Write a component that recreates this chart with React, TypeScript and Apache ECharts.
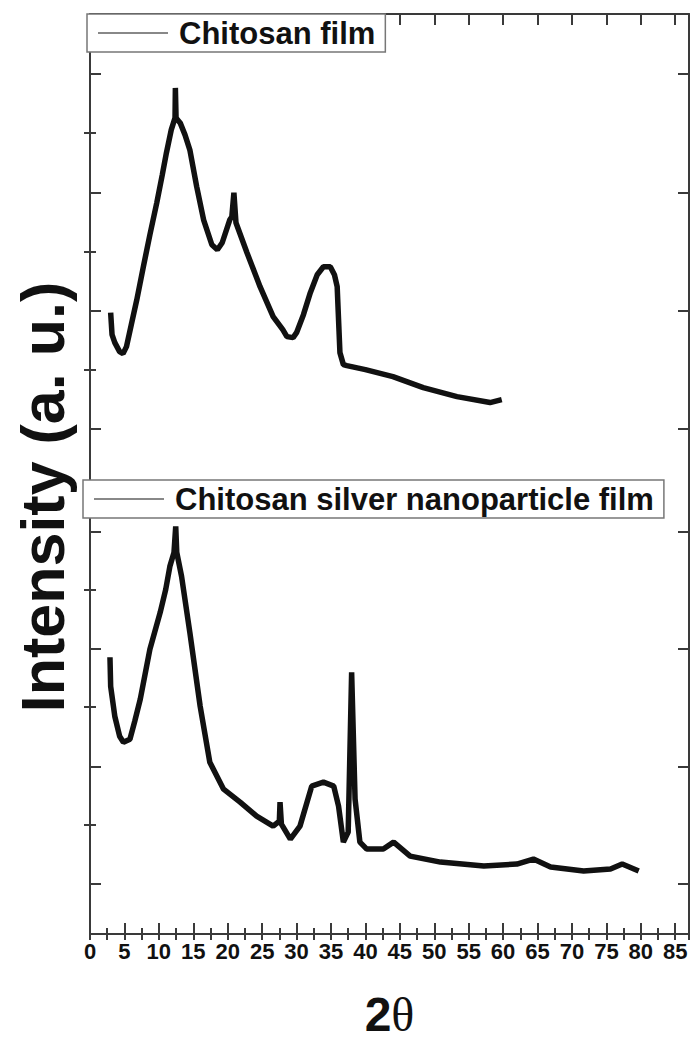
import React, { useEffect, useRef } from 'react';
import * as echarts from 'echarts';

// [2θ (deg), intensity (a.u.)]
const chitosanFilm: [number, number][] = [
  [3.0, 622], [3.2, 600], [3.6, 592], [4.3, 583], [4.8, 581], [5.3, 588], [6.0, 610],
  [6.8, 635], [7.75, 668], [8.7, 700], [9.7, 732], [10.5, 760], [11.1, 782], [11.8, 805],
  [12.35, 817], [12.4, 847], [12.5, 817], [13.1, 812], [13.8, 800], [14.5, 785], [15.5, 748],
  [16.5, 715], [17.7, 690], [18.5, 685], [19.2, 692], [20.3, 715], [20.6, 718], [20.9, 742],
  [21.2, 712], [22.8, 682], [24.7, 648], [26.6, 618], [28.0, 605], [28.6, 598], [29.5, 597],
  [30.0, 602], [31.0, 620], [32.0, 642], [33.0, 660], [33.9, 668], [34.9, 668], [35.5, 660],
  [35.9, 648], [36.3, 582], [36.8, 570], [37.3, 569], [40.0, 565], [44.0, 558], [48.4, 547],
  [53.3, 538], [58.1, 532], [59.8, 535],
];

const chitosanAgFilm: [number, number][] = [
  [2.9, 277], [3.0, 248], [3.6, 218], [4.3, 198], [4.85, 192], [5.8, 195], [6.5, 213],
  [7.3, 235], [8.7, 285], [10.2, 322], [11.0, 345], [11.6, 368], [12.2, 382], [12.45, 408],
  [12.6, 382], [13.3, 358], [14.5, 302], [16.0, 228], [17.4, 172], [19.4, 145], [21.8, 132],
  [24.2, 118], [26.6, 108], [27.5, 113], [27.6, 132], [27.8, 110], [29.1, 95], [30.5, 108],
  [32.2, 148], [33.9, 152], [35.4, 148], [36.1, 128], [36.8, 92], [37.5, 102], [38.0, 262],
  [38.5, 135], [39.2, 92], [40.2, 85], [42.6, 85], [44.1, 92], [46.5, 78], [50.9, 72],
  [57.2, 68], [62.0, 70], [64.4, 75], [66.9, 67], [71.7, 63], [75.6, 65], [77.3, 70],
  [79.7, 63],
];

const seriesNames = ['Chitosan film', 'Chitosan silver nanoparticle film'];
const yMajorTicks = [50, 167, 286, 403, 506, 624, 742, 861];
const yMinorTicks = [109, 227, 345, 565, 683, 802];
const yTitle = 'Intensity (a. u.)';

export default function App() {
  const ref = useRef<HTMLDivElement>(null);
  useEffect(() => {
    document.body.style.margin = '0';
    const chart = echarts.init(ref.current!, null, { renderer: 'svg' });
    const axisColor = '#3a3a3a';
    const font = "'Liberation Sans', Arial, sans-serif";
    const lineAxis = { show: true, onZero: false, lineStyle: { color: axisColor, width: 2 } };

    const xAxisBase = (position: string, interval: number, tickLen: number, withLabel: boolean, withLine: boolean) => ({
      type: 'value',
      min: 0,
      max: 87,
      interval,
      position,
      axisLine: withLine ? lineAxis : { show: false },
      axisTick: { show: true, inside: true, length: tickLen, lineStyle: { color: axisColor, width: 2 } },
      axisLabel: withLabel
        ? { show: true, showMaxLabel: false, margin: 6, fontSize: 22, fontWeight: 'bold', color: '#111', fontFamily: font }
        : { show: false },
      splitLine: { show: false },
    });

    const yAxisBase = (position: string, ticks: number[], tickLen: number, withLine: boolean) => ({
      type: 'value',
      min: 0,
      max: 921,
      position,
      axisLine: withLine ? lineAxis : { show: false },
      axisTick: { show: true, inside: true, length: tickLen, customValues: ticks, lineStyle: { color: axisColor, width: 2 } },
      axisLabel: { show: false },
      splitLine: { show: false },
    });

    const legendBase = (name: string, left: number, top: number) => ({
      data: [name],
      left,
      top,
      orient: 'horizontal',
      backgroundColor: '#fff',
      borderColor: '#777',
      borderWidth: 1.5,
      borderRadius: 0,
      padding: [2, 10, 2, 11],
      icon: 'rect',
      itemWidth: 70,
      itemHeight: 2,
      itemStyle: { color: '#888', borderWidth: 0 },
      textStyle: { fontSize: 31, fontWeight: 'bold', color: '#111', fontFamily: font, lineHeight: 34, padding: [0, 0, 0, 6] },
      selectedMode: false,
    });

    const x0 = xAxisBase('bottom', 5, 11, true, true) as any;
    x0.name = '{a|2}{b|θ}';
    x0.nameLocation = 'middle';
    x0.nameGap = 56;
    x0.nameTextStyle = {
      rich: {
        a: { fontSize: 48, fontWeight: 'bold', fontFamily: font, color: '#111' },
        b: { fontSize: 48, fontFamily: "'Liberation Serif', 'Times New Roman', serif", color: '#111' },
      },
    };

    chart.setOption({
      animation: false,
      backgroundColor: '#fff',
      grid: { left: 90, right: 2, top: 14, bottom: 108, containLabel: false },
      xAxis: [
        x0,
        xAxisBase('bottom', 2.5, 6, false, false),
        xAxisBase('top', 5, 11, false, true),
        xAxisBase('top', 2.5, 6, false, false),
      ],
      yAxis: [
        yAxisBase('left', yMajorTicks, 11, true),
        yAxisBase('left', yMinorTicks, 6, false),
        yAxisBase('right', yMajorTicks, 11, true),
        yAxisBase('right', yMinorTicks, 6, false),
      ],
      legend: [legendBase(seriesNames[0], 87, 14), legendBase(seriesNames[1], 83, 480)],
      series: [
        {
          name: seriesNames[0],
          type: 'line',
          xAxisIndex: 0,
          yAxisIndex: 0,
          data: chitosanFilm,
          symbol: 'none',
          showSymbol: false,
          lineStyle: { color: '#111', width: 5.5 },
          itemStyle: { color: '#111' },
        },
        {
          name: seriesNames[1],
          type: 'line',
          xAxisIndex: 0,
          yAxisIndex: 0,
          data: chitosanAgFilm,
          symbol: 'none',
          showSymbol: false,
          lineStyle: { color: '#111', width: 5.5 },
          itemStyle: { color: '#111' },
        },
      ],
      graphic: [
        {
          type: 'text',
          x: 43,
          y: 497,
          rotation: Math.PI / 2,
          style: {
            text: yTitle,
            font: `bold 61px ${font}`,
            fill: '#111',
            align: 'center',
            verticalAlign: 'middle',
          },
        },
      ],
    });
    return () => chart.dispose();
  }, []);
  return <div ref={ref} style={{ width: 691, height: 1043 }} />;
}
